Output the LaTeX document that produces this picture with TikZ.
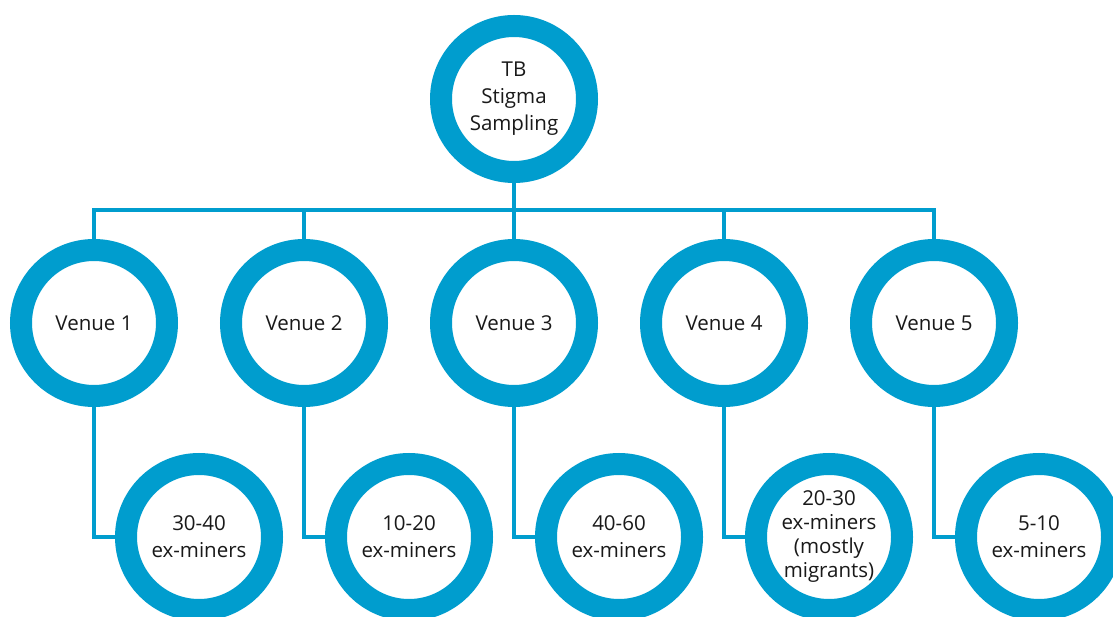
\documentclass[tikz,border=0pt]{standalone}
\usepackage{fontspec}
\setmainfont{Open Sans}
\usetikzlibrary{positioning, backgrounds}
\definecolor{ringblue}{RGB}{0,157,206}
\tikzset{
    ring/.style={circle, draw=ringblue, line width=22pt, fill=white, minimum size=146pt, inner sep=0pt, align=center, text=black!90, font=\fontsize{20.5}{27}\selectfont},
    tightring/.style={ring, font=\fontsize{20.5}{24}\selectfont},
    link/.style={draw=ringblue, line width=3.2pt},
}

\begin{document}
\begin{tikzpicture}[x=1pt, y=-1pt]
\useasboundingbox (0,0) rectangle (1113,617);
\clip (0,0) rectangle (1113,617);

% Root
\node[ring] (top) at (514,99) {TB\\Stigma\\Sampling};

% Venues, one row
\node[ring] (v1) at (94,323) {Venue 1};
\foreach \i [remember=\i as \j (initially 1)] in {2,...,5}
    \node[ring, right=42pt of v\j] (v\i) {Venue \i};

% Sample size under each venue
\foreach \i/\sty/\txt in {1/ring/{30-40\\ex-miners}, 2/ring/{10-20\\ex-miners}, 3/ring/{40-60\\ex-miners}, 4/tightring/{20-30\\ex-miners\\(mostly\\migrants)}, 5/ring/{5-10\\ex-miners}}
    \node[\sty] (b\i) at ([xshift=105pt, yshift=-214pt]v\i.center) {\txt};

% Connectors
\coordinate (bus) at (0,210);
\begin{scope}[on background layer]
\draw[link] (top) -- (top |- bus);
\draw[link] (v1) -- (v1 |- bus) -- (v5 |- bus) -- (v5);
\foreach \i in {2,3,4}
    \draw[link] (v\i) -- (v\i |- bus);
\foreach \i in {1,...,5}
    \draw[link] (v\i) |- (b\i);
\end{scope}

\end{tikzpicture}
\end{document}
